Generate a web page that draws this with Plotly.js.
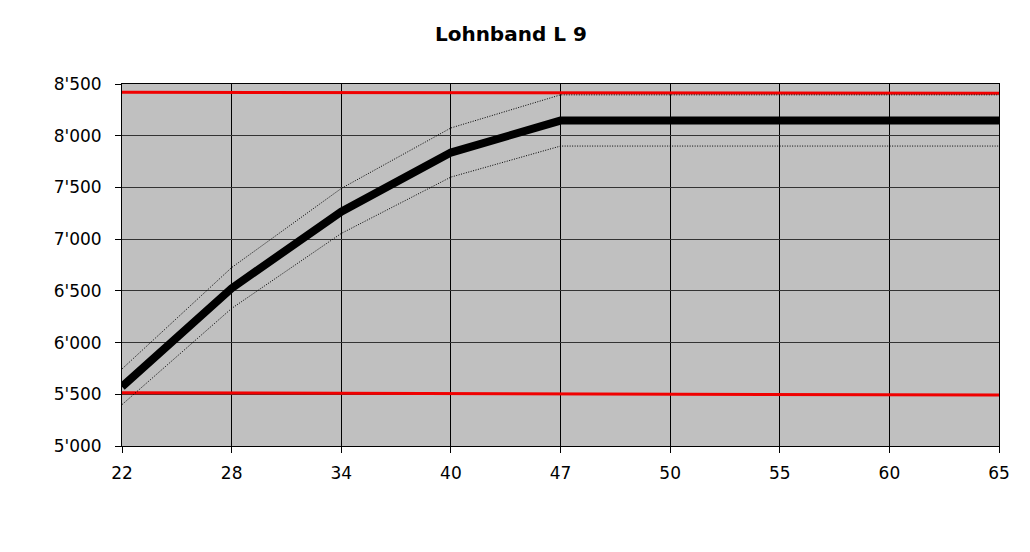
<!DOCTYPE html>
<html>
<head>
<meta charset="utf-8">
<script src="https://cdn.plot.ly/plotly-3.0.1.min.js"></script>
<style>
  html, body { margin: 0; padding: 0; background: #fff; }
  #chart { width: 1030px; height: 552px; }
</style>
</head>
<body>
<div id="chart"></div>
<script>
// Age steps (categorical axis)
const ages = ["22", "28", "34", "40", "47", "50", "55", "60", "65"];

// Salary curve and its band
const salary = [5573, 6525, 7266, 7837, 8146, 8146, 8146, 8146, 8146];
const salaryUpper = [5745, 6725, 7490, 8075, 8395, 8395, 8395, 8395, 8395];
const salaryLower = [5400, 6330, 7055, 7600, 7900, 7900, 7900, 7900, 7900];

// Band limits (min / max)
const limitAges = ["22", "65"];
const limitMax = [8420, 8410];
const limitMin = [5515, 5493];

const tickFont = { family: "DejaVu Sans", size: 17, color: "#000" };

const data = [
  {
    x: limitAges, y: limitMax, type: "scatter", mode: "lines",
    line: { color: "#f00000", width: 3 }, hoverinfo: "skip",
  },
  {
    x: limitAges, y: limitMin, type: "scatter", mode: "lines",
    line: { color: "#f00000", width: 3 }, hoverinfo: "skip",
  },
  {
    x: ages, y: salaryUpper, type: "scatter", mode: "lines",
    line: { color: "#000", width: 1, dash: "1px,1.5px" },
  },
  {
    x: ages, y: salaryLower, type: "scatter", mode: "lines",
    line: { color: "#000", width: 1, dash: "1px,1.5px" },
  },
  {
    x: ages, y: salary, type: "scatter", mode: "lines",
    line: { color: "#000", width: 8 },
  },
];

const layout = {
  width: 1030,
  height: 552,
  margin: { l: 122, r: 31, t: 84, b: 106 },
  paper_bgcolor: "#fff",
  plot_bgcolor: "#c0c0c0",
  showlegend: false,
  separators: ".'",
  title: {
    text: "Lohnband L 9",
    font: { family: "DejaVu Sans", size: 20, color: "#000", weight: "bold" },
    xref: "container", x: 0.496, xanchor: "center",
    yref: "container", y: 1 - 34 / 552, yanchor: "middle",
  },
  xaxis: {
    type: "category",
    categoryorder: "array",
    categoryarray: ages,
    range: [0, ages.length - 1],
    showgrid: true, gridcolor: "#000", gridwidth: 1,
    showline: true, linecolor: "#000", linewidth: 1, mirror: true,
    ticks: "outside", ticklen: 6, tickcolor: "#000",
    ticklabelstandoff: 6,
    tickfont: tickFont,
    zeroline: false,
    fixedrange: true,
  },
  yaxis: {
    range: [5000, 8500],
    dtick: 500,
    tick0: 5000,
    tickformat: ",d",
    showgrid: true, gridcolor: "#333", gridwidth: 1,
    showline: true, linecolor: "#000", linewidth: 1, mirror: true,
    ticks: "outside", ticklen: 6, tickcolor: "#000",
    ticklabelstandoff: 10,
    tickfont: tickFont,
    zeroline: false,
    fixedrange: true,
  },
};

Plotly.newPlot("chart", data, layout, { displayModeBar: false, staticPlot: true });
</script>
</body>
</html>
